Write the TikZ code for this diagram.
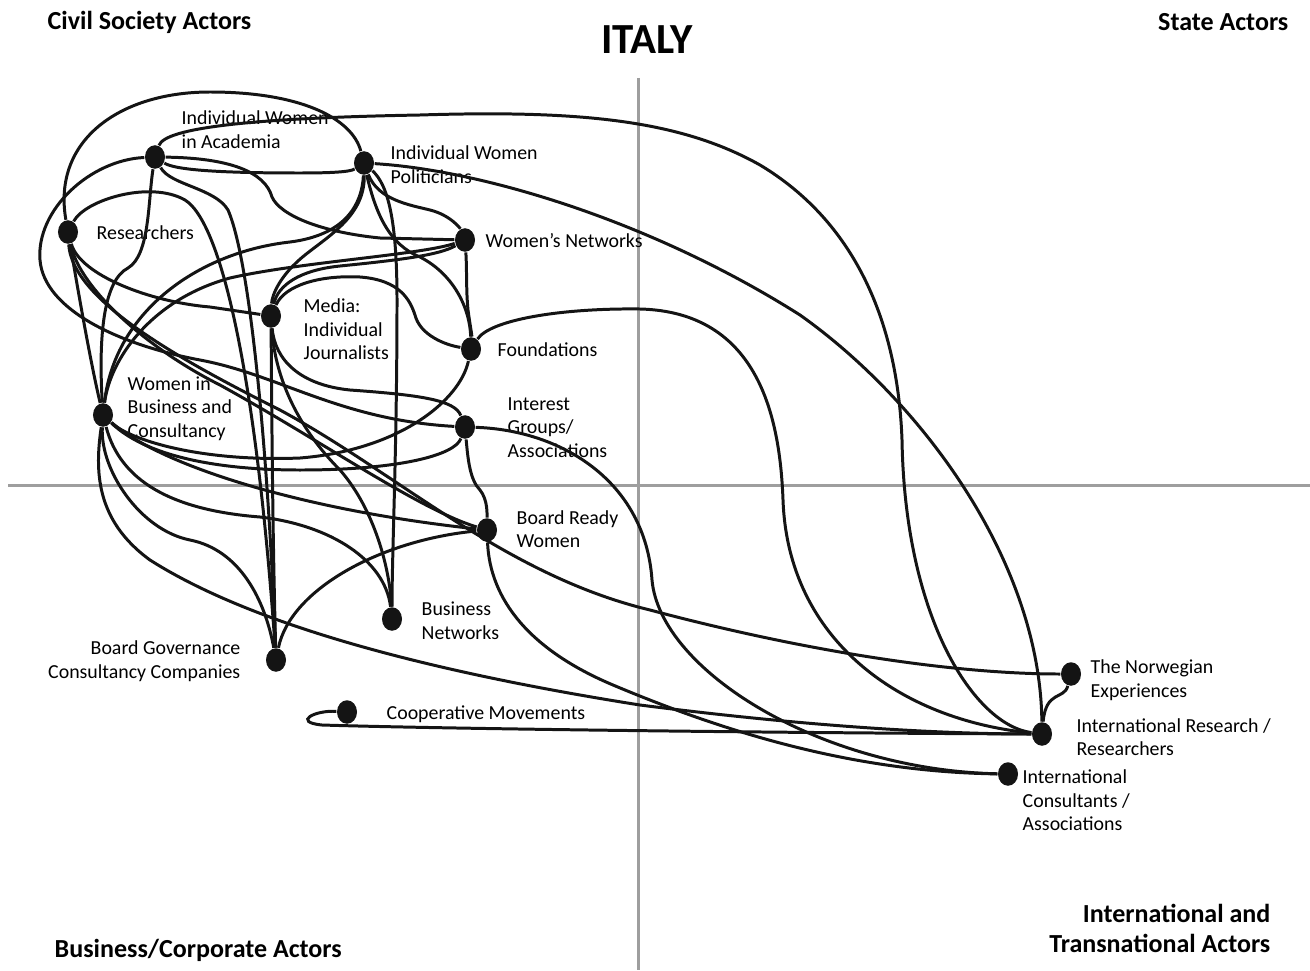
\documentclass[tikz,border=0pt]{standalone}
\usepackage{fontspec}
\setmainfont{Carlito}
\usetikzlibrary{shapes.geometric}
\begin{document}
\begin{tikzpicture}[x=0.01cm,y=-0.01cm,
  actor/.style={ellipse,fill=black!92,inner sep=0pt,minimum width=0.2cm,minimum height=0.235cm},
  lbl/.style={inner sep=0pt,align=left,anchor=west,font=\fontsize{5.65}{6.69}\selectfont},
  ttl/.style={inner sep=0pt,font=\fontsize{7.4}{8.3}\selectfont\bfseries},
  tie/.style={line width=0.85pt,black!92},
  axis/.style={draw=black!38,line width=0.85pt}]
\useasboundingbox (0,0) rectangle (1310,970);

% quadrant axes
\draw[axis] (638,78) -- (638,970);
\draw[axis] (8,485) -- (1310,485);

% titles
\node[ttl,anchor=west] (tcivil) at (47,22) {Civil Society Actors};
\node[ttl,anchor=east] (tstate) at (1289,22) {State Actors};
\node[inner sep=0pt,font=\fontsize{12.2}{14}\selectfont\bfseries] (titaly) at (647,40) {ITALY};
\node[ttl,anchor=east,align=right] (tintl) at (1271,928.5) {International and\\Transnational Actors};
\node[ttl,anchor=west] (tbiz) at (54,950) {Business/Corporate Actors};

% actors
\node[actor] (acad)  at (155,157) {};
\node[actor] (pol)   at (364,163) {};
\node[actor] (res)   at (68,232) {};
\node[actor] (wnet)  at (465,240) {};
\node[actor] (media) at (271,316) {};
\node[actor] (found) at (471,349) {};
\node[actor] (wbc)   at (103,415) {};
\node[actor] (intg)  at (465,427) {};
\node[actor] (brw)   at (487,530) {};
\node[actor] (bnet)  at (392,619) {};
\node[actor] (bgov)  at (276,660) {};
\node[actor] (coop)  at (347,712) {};
\node[actor] (norw)  at (1071,674) {};
\node[actor] (intr)  at (1042,734) {};
\node[actor] (intc)  at (1008,774) {};

% actor labels
\node[lbl] (lacad)  at (181,129.5) {Individual Women\\in Academia};
\node[lbl] (lpol)   at (390,164.5) {Individual Women\\Politicians};
\node[lbl] (lres)   at (96,233) {Researchers};
\node[lbl] (lwnet)  at (485,241) {Women’s Networks};
\node[lbl] (lmedia) at (303,329.5) {Media:\\Individual\\Journalists};
\node[lbl] (lfound) at (497,350) {Foundations};
\node[lbl] (lwbc)   at (127,408.5) {Women in\\Business and\\Consultancy};
\node[lbl] (lintg)  at (507,427.5) {Interest\\Groups/\\Associations};
\node[lbl] (lbrw)   at (516,529) {Board Ready\\Women};
\node[lbl] (lbnet)  at (421,620.5) {Business\\Networks};
\node[lbl,anchor=east,align=right] (lbgov) at (241,661) {Board Governance\\Consultancy Companies};
\node[lbl] (lcoop)  at (386,714) {Cooperative Movements};
\node[lbl] (lnorw)  at (1090,680) {The Norwegian\\Experiences};
\node[lbl] (lintr)  at (1076,737) {International Research /\\Researchers};
\node[lbl] (lintc)  at (1022,800.5) {International\\Consultants /\\Associations};

% ties between actors
\draw[tie] (res) .. controls (52,140) and (120,92) .. (210,92) .. controls (300,92) and (352,118) .. (pol);
\draw[tie] (acad) .. controls (165,128) and (250,118) .. (420,115) .. controls (580,110) and (680,120) .. (760,165) .. controls (860,225) and (898,330) .. (902,440) .. controls (905,620) and (975,725) .. (intr);
\draw[tie] (pol) .. controls (480,170) and (650,220) .. (800,315) .. controls (920,400) and (1040,560) .. (intr);
\draw[tie] (found) .. controls (490,320) and (560,308) .. (640,309) .. controls (760,312) and (780,420) .. (783,500) .. controls (788,640) and (900,720) .. (intr);
\draw[tie] (intg) .. controls (560,430) and (645,480) .. (652,580) .. controls (660,670) and (820,770) .. (intc);
\draw[tie] (brw) .. controls (490,600) and (530,650) .. (613,685) .. controls (720,730) and (850,772) .. (intc);
\draw[tie] (wbc) .. controls (95,470) and (95,520) .. (150,560) .. controls (260,630) and (450,675) .. (640,705) .. controls (820,728) and (950,734) .. (intr);
\draw[tie] (res) .. controls (72,300) and (180,360) .. (280,410) .. controls (400,475) and (505,575) .. (650,610) .. controls (800,650) and (950,674) .. (norw);
\draw[tie] (coop) .. controls (315,710) and (292,722) .. (322,725) .. controls (450,729) and (800,733) .. (intr);
\draw[tie] (norw) .. controls (1064,700) and (1046,690) .. (intr);

\draw[tie] (acad) .. controls (175,170) and (220,173) .. (300,173) .. controls (330,173) and (350,172) .. (pol);
\draw[tie] (acad) .. controls (230,158) and (265,172) .. (272,197) .. controls (280,215) and (320,232) .. (380,238) -- (wnet);
\draw[tie] (acad) .. controls (90,160) and (36,210) .. (40,260) .. controls (44,310) and (120,345) .. (200,360) .. controls (280,375) and (340,420) .. (intg);
\draw[tie] (acad) .. controls (148,200) and (150,255) .. (128,268) .. controls (105,280) and (98,330) .. (wbc);
\draw[tie] (acad) .. controls (170,185) and (215,188) .. (228,210) .. controls (250,260) and (268,450) .. (bgov);

\draw[tie] (res) .. controls (85,200) and (150,180) .. (185,200) .. controls (225,225) and (258,400) .. (bgov);
\draw[tie] (res) .. controls (80,275) and (150,302) .. (210,307) -- (media);
\draw[tie] (res) .. controls (78,290) and (90,360) .. (wbc);
\draw[tie] (res) .. controls (80,290) and (150,350) .. (220,385) .. controls (320,440) and (420,510) .. (brw);

\draw[tie] (pol) .. controls (378,200) and (410,205) .. (430,210) .. controls (450,215) and (460,228) .. (wnet);
\draw[tie] (pol) .. controls (376,215) and (390,245) .. (420,257) .. controls (455,275) and (470,310) .. (found);
\draw[tie] (pol) .. controls (388,185) and (397,220) .. (397,300) .. controls (397,450) and (392,550) .. (bnet);
\draw[tie] (pol) .. controls (362,205) and (345,235) .. (290,242) .. controls (200,252) and (115,310) .. (wbc);
\draw[tie] (pol) .. controls (365,215) and (330,235) .. (305,255) .. controls (280,275) and (272,295) .. (media);

\draw[tie] (wnet) .. controls (467,270) and (466,290) .. (468,310) .. controls (470,325) and (472,335) .. (found);
\draw[tie] (wnet) .. controls (420,255) and (300,262) .. (230,278) .. controls (150,300) and (110,360) .. (wbc);

\draw[tie] (media) .. controls (278,285) and (300,270) .. (340,266) .. controls (400,260) and (440,255) .. (wnet);
\draw[tie] (media) .. controls (285,285) and (320,275) .. (360,277) .. controls (400,280) and (410,300) .. (415,315) .. controls (420,335) and (445,345) .. (found);
\draw[tie] (media) .. controls (275,360) and (300,385) .. (350,390) .. controls (420,395) and (455,400) .. (intg);
\draw[tie] (media) .. controls (275,380) and (300,430) .. (340,470) .. controls (375,510) and (390,570) .. (bnet);
\draw[tie] (media) .. controls (272,450) and (273,550) .. (bgov);

\draw[tie] (found) .. controls (460,400) and (400,450) .. (300,458) .. controls (200,462) and (130,440) .. (wbc);
\draw[tie] (wbc) .. controls (150,460) and (230,470) .. (300,470) .. controls (400,470) and (455,455) .. (intg);
\draw[tie] (intg) .. controls (468,460) and (470,480) .. (480,490) .. controls (488,500) and (487,515) .. (brw);
\draw[tie] (wbc) .. controls (160,465) and (300,510) .. (brw);
\draw[tie] (wbc) .. controls (120,480) and (170,510) .. (260,517) .. controls (330,525) and (385,560) .. (bnet);
\draw[tie] (wbc) .. controls (100,470) and (140,530) .. (190,540) .. controls (240,550) and (265,600) .. (bgov);
\draw[tie] (brw) .. controls (380,540) and (290,590) .. (bgov);
\end{tikzpicture}
\end{document}
